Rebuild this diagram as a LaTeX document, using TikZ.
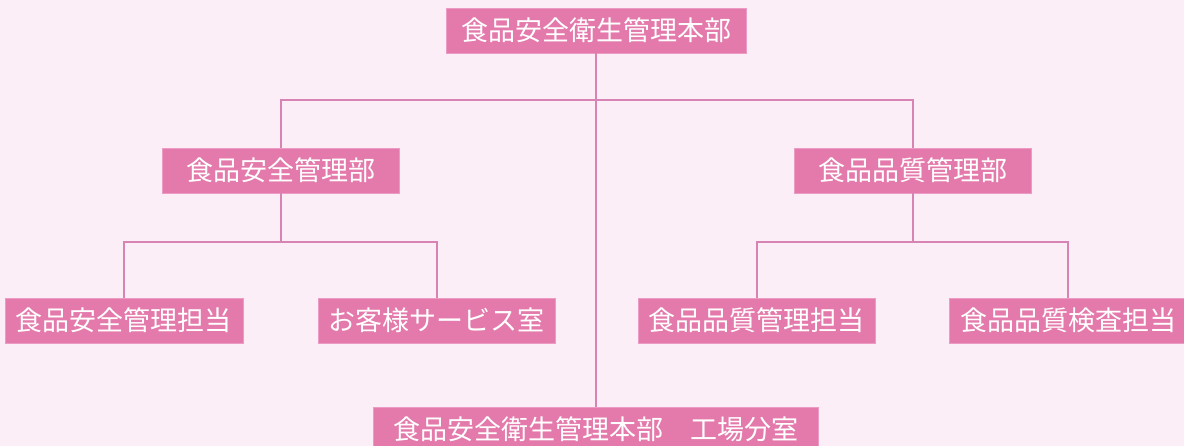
\documentclass[tikz,border=0pt]{standalone}
\usepackage{fontspec}
\newfontfamily\jpfont{Noto Sans CJK JP}
\usetikzlibrary{positioning}
\usetikzlibrary{calc}
\definecolor{boxpink}{HTML}{E47AAB}
\definecolor{edgepink}{HTML}{EC9CC4}
\definecolor{linepink}{HTML}{D784B5}
\definecolor{bgpink}{HTML}{FCEEF6}

\begin{document}
\begin{tikzpicture}[
      x=1pt,y=1pt,
      unitblock/.style={draw=edgepink,line width=0.8pt,fill=boxpink,rectangle,text=white,
        font=\jpfont\fontsize{27}{27}\selectfont,inner sep=0pt,
        minimum width=237pt,minimum height=45pt},
      conn/.style={draw=linepink,line width=2pt}]
      \fill[bgpink] (0,0) rectangle (1184,446);
      \useasboundingbox (0,0) rectangle (1184,446);
      % Blocks
      \node[unitblock,minimum width=300pt]            (hq)       at (596,415.5)   {食品安全衛生管理本部};
      \node[unitblock]                                (safety)   at (280.5,275.5) {食品安全管理部};
      \node[unitblock]                                (quality)  at (912.5,275.5) {食品品質管理部};
      \node[unitblock,minimum width=238pt]            (safetymg) at (124,125.5)   {食品安全管理担当};
      \node[unitblock]                                (service)  at (436.5,125.5) {お客様サービス室};
      \node[unitblock]                                (qualmg)   at (756.5,125.5) {食品品質管理担当};
      \node[unitblock,minimum width=238pt]            (qualchk)  at (1068,125.5)  {食品品質検査担当};
      \node[unitblock,minimum width=445pt]            (factory)  at (596,16.5)    {食品安全衛生管理本部　工場分室};

      % Junctions
      \coordinate (hub)  at (hq.south |- 0,346);
      \coordinate (lhub) at (safety.south |- 0,204);
      \coordinate (rhub) at (quality.south |- 0,204);

      % Lines
      \draw[conn] (hq.south) -- (factory.north);
      \draw[conn] (safety.north) |- (hub) -| (quality.north);
      \draw[conn] (safety.south) -- (lhub);
      \draw[conn] (safetymg.north) |- (lhub) -| (service.north);
      \draw[conn] (quality.south) -- (rhub);
      \draw[conn] (qualmg.north) |- (rhub) -| (qualchk.north);
    \end{tikzpicture}
\end{document}
